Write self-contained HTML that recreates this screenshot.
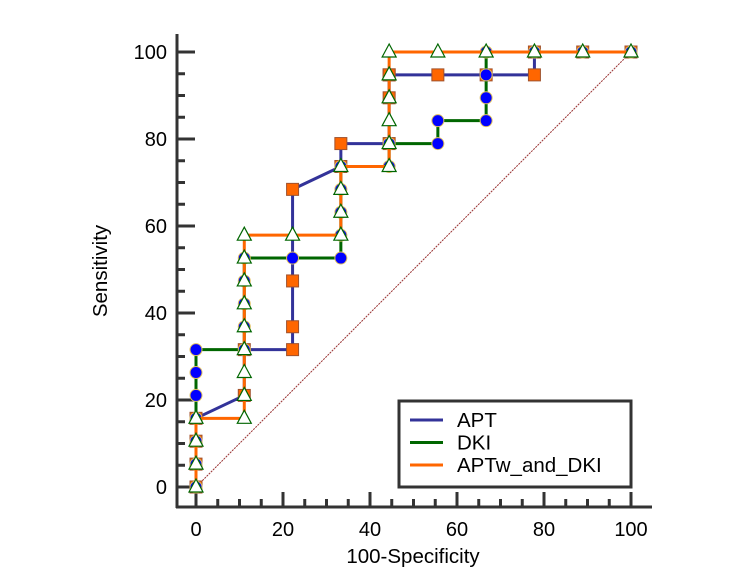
<!DOCTYPE html>
<html><head><meta charset="utf-8"><style>
html,body{margin:0;padding:0;background:#fff}
svg{display:block;font-family:"Liberation Sans",Arial,sans-serif}
</style></head><body>
<svg id="c" width="731" height="577" viewBox="0 0 731 577"></svg>
<script>
const xTicks=[0,20,40,60,80,100];
const yTicks=[0,20,40,60,80,100];
const seriesNames=["APT","DKI","APTw_and_DKI"];
const aptX=[0,0,0,0,11.1,11.1,22.2,22.2,22.2,22.2,33.3,33.3,44.4,44.4,44.4,44.4,55.6,66.7,77.8,77.8,88.9,100];
const aptY=[0,5.26,10.53,15.79,21.05,31.58,31.58,36.84,47.37,68.42,73.68,78.95,78.95,89.47,94.74,94.74,94.74,94.74,94.74,100,100,100];
const dkiX=[0,0,0,0,0,0,0,11.1,11.1,11.1,11.1,11.1,22.2,33.3,33.3,33.3,33.3,33.3,44.4,44.4,55.6,55.6,66.7,66.7,66.7,66.7,77.8,88.9,100];
const dkiY=[0,5.26,10.53,15.79,21.05,26.32,31.58,31.58,36.84,42.11,47.37,52.63,52.63,52.63,57.89,63.16,68.42,73.68,73.68,78.95,78.95,84.21,84.21,89.47,94.74,100,100,100,100];
const combX=[0,0,0,0,11.1,11.1,11.1,11.1,11.1,11.1,11.1,11.1,11.1,22.2,33.3,33.3,33.3,33.3,44.4,44.4,44.4,44.4,44.4,44.4,55.6,66.7,77.8,88.9,100];
const combY=[0,5.26,10.53,15.79,15.79,21.05,26.32,31.58,36.84,42.11,47.37,52.63,57.89,57.89,57.89,63.16,68.42,73.68,73.68,78.95,84.21,89.47,94.74,100,100,100,100,100,100];

const NS="http://www.w3.org/2000/svg";
const svg=document.getElementById('c');
const X0=196,X1=631,Y0=487,Y1=52;
const sx=v=>X0+(X1-X0)*v/100;
const sy=v=>Y0-(Y0-Y1)*v/100;
function mk(tag,attrs,parent){const e=document.createElementNS(NS,tag);for(const k in attrs)e.setAttribute(k,attrs[k]);(parent||svg).appendChild(e);return e;}

const ax=mk('g',{});


let e=mk('line',{x1:177,y1:34,x2:177,y2:508,stroke:'#333',"stroke-width":3},ax);


e=mk('line',{x1:176,y1:507,x2:652,y2:507,stroke:'#333',"stroke-width":3},ax);


for(let v=0;v<=100;v+=5){
  const major=v%20===0;
  mk('line',{x1:177,y1:sy(v),x2:major?195:185,y2:sy(v),stroke:'#333',"stroke-width":3},ax);
  mk('line',{x1:sx(v),y1:507,x2:sx(v),y2:major?492:499,stroke:'#333',"stroke-width":3},ax);
}
yTicks.forEach(v=>{const t=mk('text',{x:167,y:sy(v)+7,"text-anchor":"end","font-size":20,fill:'#000'},ax);t.textContent=v;

});
xTicks.forEach(v=>{const t=mk('text',{x:sx(v),y:536,"text-anchor":"middle","font-size":20,fill:'#000'},ax);t.textContent=v;

});
e=mk('text',{x:413,y:563,"text-anchor":"middle","font-size":20.5});e.textContent='100-Specificity';


e=mk('text',{x:0,y:0,"text-anchor":"middle","font-size":20.5,transform:'translate(107,271) rotate(-90)'});e.textContent='Sensitivity';



e=mk('line',{x1:sx(0),y1:sy(0),x2:sx(100),y2:sy(100),stroke:'#993333',"stroke-width":1,"stroke-dasharray":"2,1"});



function series(xs,ys,color,marker,name){
  const g=mk('g',{});
  
  
  const pts=xs.map((x,i)=>sx(x)+','+sy(ys[i])).join(' ');
  mk('polyline',{points:pts,fill:'none',stroke:color,"stroke-width":3},g);
  xs.forEach((x,i)=>{
    const cx=sx(x),cy=sy(ys[i]);let m;
    if(marker==='square')m=mk('rect',{x:cx-6,y:cy-6,width:12,height:12,fill:'#ff6600',stroke:'#a0522d',"stroke-width":1},g);
    else if(marker==='circle')m=mk('circle',{cx:cx,cy:cy,r:6,fill:'#0000ff',stroke:'#e0c060',"stroke-width":1},g);
    else m=mk('polygon',{points:`${cx},${cy-8} ${cx-7},${cy+5} ${cx+7},${cy+5}`,fill:'#fff',stroke:'#006600',"stroke-width":1.2},g);
    
    
  });
}
series(aptX,aptY,'#333399','square','series-apt');
series(dkiX,dkiY,'#006600','circle','series-dki');
series(combX,combY,'#ff6600','triangle','series-aptw-and-dki');

const lg=mk('g',{});


mk('rect',{x:399,y:401,width:232,height:86,fill:'#fff',stroke:'#333',"stroke-width":3},lg);
const lc=['#333399','#006600','#ff6600'];
seriesNames.forEach((n,i)=>{
  const y=419+i*22.5;
  mk('line',{x1:410,y1:y+1,x2:443,y2:y+1,stroke:lc[i],"stroke-width":3},lg);
  const t=mk('text',{x:457,y:y+8,"font-size":20.5},lg);t.textContent=n;
  
  
});
</script>
</body></html>
